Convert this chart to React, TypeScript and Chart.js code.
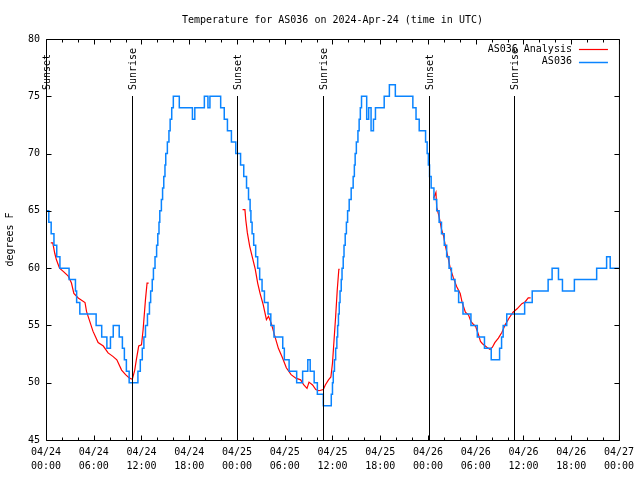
import React, { useEffect, useRef } from 'react';
import { Chart, registerables } from 'chart.js';

Chart.register(...registerables);

const FONT_FAMILY = '"DejaVu Sans Mono", "Liberation Mono", monospace';

const titleText = 'Temperature for AS036 on 2024-Apr-24 (time in UTC)';
const yAxisTitle = 'degrees F';
const analysisLabel = 'AS036 Analysis';
const stationLabel = 'AS036';

// x axis: hours since 2024-04-24 00:00 UTC
const xMin = 0;
const xMax = 72;
const xMajorStep = 6;
const xMinorStep = 2;
const xTickDates = ['04/24', '04/24', '04/24', '04/24', '04/25', '04/25', '04/25', '04/25', '04/26', '04/26', '04/26', '04/26', '04/27'];
const xTickTimes = ['00:00', '06:00', '12:00', '18:00', '00:00', '06:00', '12:00', '18:00', '00:00', '06:00', '12:00', '18:00', '00:00'];

const yMin = 45;
const yMax = 80;
const yStep = 5;

// sunrise / sunset markers (hours since 04/24 00:00 UTC)
const sunEventHours = [0.0, 10.75, 24.05, 34.8, 48.08, 58.75];
const sunEventLabels = ['Sunset', 'Sunrise', 'Sunset', 'Sunrise', 'Sunset', 'Sunrise'];
const sunLineTopTemp = 75;

// station observations: hour at which the reading changes, and the reading (F)
const stationHours = [0.0, 0.35, 0.65, 1.0, 1.35, 1.75, 2.9, 3.7, 3.85, 4.25, 6.3, 7.0, 7.65, 8.1, 8.45, 9.2, 9.6, 9.85, 10.1, 10.45, 11.55, 11.85, 12.1, 12.3, 12.5, 12.75, 13.0, 13.15, 13.35, 13.5, 13.7, 13.9, 14.05, 14.2, 14.3, 14.5, 14.65, 14.8, 14.95, 15.05, 15.25, 15.45, 15.6, 15.8, 16.0, 16.75, 18.4, 18.7, 19.9, 20.35, 20.6, 21.95, 22.4, 22.8, 23.3, 23.85, 24.45, 24.85, 25.2, 25.45, 25.65, 25.75, 25.9, 26.1, 26.35, 26.6, 26.85, 27.15, 27.45, 27.9, 28.25, 28.65, 29.75, 29.95, 30.55, 31.5, 32.25, 32.9, 33.2, 33.7, 34.1, 34.85, 35.85, 36.0, 36.1, 36.25, 36.4, 36.55, 36.65, 36.75, 36.85, 36.95, 37.1, 37.2, 37.35, 37.45, 37.6, 37.75, 37.9, 38.1, 38.35, 38.6, 38.75, 38.85, 39.0, 39.2, 39.35, 39.5, 39.65, 40.3, 40.55, 40.85, 41.15, 41.4, 42.5, 43.15, 43.9, 46.1, 46.5, 46.9, 47.7, 47.9, 48.05, 48.2, 48.4, 48.75, 49.1, 49.4, 49.7, 50.05, 50.35, 50.65, 50.95, 51.4, 51.85, 52.4, 53.4, 54.2, 55.1, 55.95, 57.0, 57.25, 57.45, 57.9, 60.15, 61.1, 63.1, 63.6, 64.4, 64.9, 66.4, 69.2, 70.45, 70.9, 72.0];
const stationTemps = [65, 64, 63, 62, 61, 60, 59, 58, 57, 56, 55, 54, 53, 54, 55, 54, 53, 52, 51, 50, 51, 52, 53, 54, 55, 56, 57, 58, 59, 60, 61, 62, 63, 64, 65, 66, 67, 68, 69, 70, 71, 72, 73, 74, 75, 74, 73, 74, 75, 74, 75, 74, 73, 72, 71, 70, 69, 68, 67, 66, 65, 64, 63, 62, 61, 60, 59, 58, 57, 56, 55, 54, 53, 52, 51, 50, 51, 52, 51, 50, 49, 48, 49, 50, 51, 52, 53, 54, 55, 56, 57, 58, 59, 60, 61, 62, 63, 64, 65, 66, 67, 68, 69, 70, 71, 72, 73, 74, 75, 73, 74, 72, 73, 74, 75, 76, 75, 74, 73, 72, 71, 70, 69, 68, 67, 66, 65, 64, 63, 62, 61, 60, 59, 58, 57, 56, 55, 54, 53, 52, 53, 54, 55, 56, 57, 58, 59, 60, 59, 58, 59, 60, 61, 60, 60];

// analysis: three separate runs
const analysis1Hours = [0.6, 0.85, 1.1, 1.3, 1.7, 2.2, 2.8, 3.2, 3.5, 4.05, 4.9, 5.1, 5.5, 5.9, 6.55, 7.2, 7.8, 8.4, 8.9, 9.5, 10.0, 10.5, 10.85, 11.15, 11.35, 11.65, 12.0, 12.2, 12.5, 12.7, 12.9];
const analysis1Temps = [62.2, 62.2, 61.3, 60.75, 60.0, 59.7, 59.3, 58.7, 57.8, 57.4, 57.0, 56.2, 55.35, 54.5, 53.5, 53.2, 52.6, 52.3, 52.0, 51.1, 50.7, 50.4, 50.3, 51.1, 52.0, 53.2, 53.3, 54.6, 57.25, 58.7, 58.7];
const analysis2Hours = [24.7, 25.0, 25.1, 25.3, 25.6, 25.95, 26.3, 26.6, 26.9, 27.3, 27.7, 27.96, 28.3, 28.7, 29.2, 29.7, 30.2, 30.8, 31.4, 32.0, 32.4, 32.8, 33.05, 33.5, 33.9, 34.3, 34.85, 35.1, 35.5, 35.8, 36.0, 36.2, 36.4, 36.6, 36.8, 36.9];
const analysis2Temps = [65.1, 65.1, 64.25, 63.1, 61.9, 60.9, 59.9, 58.7, 57.8, 56.8, 55.5, 55.8, 55.2, 54.2, 53.0, 52.2, 51.3, 50.7, 50.4, 50.25, 49.8, 49.5, 50.05, 49.8, 49.4, 49.3, 49.4, 49.8, 50.25, 50.5, 51.7, 53.75, 55.8, 58.1, 59.9, 59.9];
const analysis3Hours = [48.7, 49.0, 49.1, 49.4, 49.7, 49.96, 50.2, 50.5, 50.8, 51.2, 51.6, 52.05, 52.3, 52.7, 53.1, 53.4, 53.7, 54.0, 54.3, 54.6, 54.85, 55.4, 55.8, 56.1, 56.4, 56.85, 57.3, 57.7, 58.2, 58.7, 59.2, 59.8, 60.2, 60.6, 60.9];
const analysis3Temps = [66.1, 66.6, 65.3, 64.5, 63.4, 62.8, 61.9, 61.0, 60.0, 59.15, 58.4, 57.8, 57.0, 56.15, 55.9, 55.35, 55.1, 54.9, 54.3, 53.6, 53.4, 53.1, 52.9, 53.1, 53.5, 53.9, 54.4, 55.05, 55.65, 56.15, 56.45, 56.9, 57.05, 57.4, 57.4];

const analysisColor = '#ff0000';
const stationColor = '#0a84ff';

function toPoints(hs: number[], ts: number[]) {
  return hs.map((h, i) => ({ x: h, y: ts[i] }));
}

function joinRuns(runs: { x: number; y: number | null }[][]) {
  const out: { x: number; y: number | null }[] = [];
  runs.forEach((r, i) => {
    if (i > 0) out.push({ x: (out[out.length - 1].x + r[0].x) / 2, y: null });
    out.push(...r);
  });
  return out;
}

const decorPlugin = {
  id: 'gnuplotDecor',
  afterDatasetsDraw(chart: any) {
    const { ctx, chartArea: a, scales } = chart;
    const xs = scales.x;
    const ys = scales.y;
    ctx.save();
    ctx.strokeStyle = '#000';
    ctx.fillStyle = '#000';
    ctx.lineWidth = 1;
    ctx.font = `10px ${FONT_FAMILY}`;

    // sunrise / sunset lines and labels
    const lineTop = Math.round(ys.getPixelForValue(sunLineTopTemp));
    sunEventHours.forEach((h, i) => {
      const px = Math.round(xs.getPixelForValue(h)) + 0.5;
      ctx.beginPath();
      ctx.moveTo(px, lineTop);
      ctx.lineTo(px, a.bottom);
      ctx.stroke();
      ctx.save();
      ctx.translate(px + 0.5, lineTop - 6);
      ctx.rotate(-Math.PI / 2);
      ctx.textAlign = 'left';
      ctx.textBaseline = 'middle';
      ctx.fillText(sunEventLabels[i], 0, 0);
      ctx.restore();
    });

    // frame
    const L = a.left + 0.5, R = a.right + 0.5, T = a.top + 0.5, B = a.bottom + 0.5;
    ctx.beginPath();
    ctx.rect(L, T, R - L, B - T);
    ctx.stroke();

    // ticks (inward, mirrored)
    ctx.beginPath();
    for (let v = xMin; v <= xMax + 1e-9; v += xMinorStep) {
      const major = Math.abs(v / xMajorStep - Math.round(v / xMajorStep)) < 1e-6;
      const len = major ? 5 : 3;
      const px = Math.round(xs.getPixelForValue(v)) + 0.5;
      ctx.moveTo(px, B); ctx.lineTo(px, B - len);
      ctx.moveTo(px, T); ctx.lineTo(px, T + len);
    }
    ys.ticks.forEach((t: any) => {
      const py = Math.round(ys.getPixelForValue(t.value)) + 0.5;
      ctx.moveTo(L, py); ctx.lineTo(L + 5, py);
      ctx.moveTo(R, py); ctx.lineTo(R - 5, py);
    });
    ctx.stroke();

    // legend (top right, inside)
    chart.data.datasets.forEach((ds: any, i: number) => {
      const y = a.top + 10 + i * 12.5;
      ctx.textAlign = 'right';
      ctx.textBaseline = 'middle';
      ctx.fillStyle = '#000';
      ctx.fillText(ds.label, a.right - 47, y);
      ctx.strokeStyle = ds.borderColor;
      ctx.lineWidth = ds.borderWidth;
      ctx.beginPath();
      ctx.moveTo(a.right - 40, Math.round(y) + 0.5);
      ctx.lineTo(a.right - 11, Math.round(y) + 0.5);
      ctx.stroke();
    });

    // title
    ctx.fillStyle = '#000';
    ctx.textAlign = 'center';
    ctx.textBaseline = 'middle';
    ctx.fillText(titleText, (a.left + a.right) / 2, 20);
    ctx.restore();
  },
};

export default function App() {
  const ref = useRef<HTMLCanvasElement>(null);
  useEffect(() => {
    if (!ref.current) return;
    Chart.defaults.font.family = FONT_FAMILY;
    Chart.defaults.font.size = 10;
    Chart.defaults.color = '#000';
    const chart = new Chart(ref.current, {
      type: 'line',
      data: {
        datasets: [
          {
            label: analysisLabel,
            data: joinRuns([
              toPoints(analysis1Hours, analysis1Temps),
              toPoints(analysis2Hours, analysis2Temps),
              toPoints(analysis3Hours, analysis3Temps),
            ]),
            borderColor: analysisColor,
            borderWidth: 1.2,
            pointRadius: 0,
            tension: 0,
            spanGaps: false,
            order: 1,
          },
          {
            label: stationLabel,
            data: toPoints(stationHours, stationTemps),
            borderColor: stationColor,
            borderWidth: 1.5,
            pointRadius: 0,
            stepped: true,
            order: 0,
          },
        ],
      },
      options: {
        responsive: false,
        animation: false,
        layout: { padding: { top: 39, right: 19, left: 0, bottom: 0 } },
        plugins: { legend: { display: false }, tooltip: { enabled: false }, title: { display: false } },
        scales: {
          x: {
            type: 'linear',
            min: xMin,
            max: xMax,
            grid: { display: false, drawTicks: false },
            border: { display: false },
            ticks: {
              stepSize: xMajorStep,
              autoSkip: false,
              maxRotation: 0,
              padding: 6,
              font: { size: 10, lineHeight: 1.35 },
              callback: (_v: any, i: number) => [xTickDates[i], xTickTimes[i]],
            },
            afterFit: (s: any) => { s.height = 40; },
          },
          y: {
            min: yMin,
            max: yMax,
            grid: { display: false, drawTicks: false },
            border: { display: false },
            ticks: { stepSize: yStep, padding: 6, font: { size: 10 } },
            title: { display: true, text: yAxisTitle, padding: { top: 4, bottom: 0 }, font: { size: 10, lineHeight: 1.2 } },
            afterFit: (s: any) => { s.width = 46; },
          },
        },
      },
      plugins: [decorPlugin],
    } as any);
    return () => chart.destroy();
  }, []);
  return (
    <div style={{ position: 'absolute', left: 0, top: 0, width: 640, height: 480 }}>
      <canvas ref={ref} width={640} height={480} style={{ display: 'block' }} />
    </div>
  );
}
